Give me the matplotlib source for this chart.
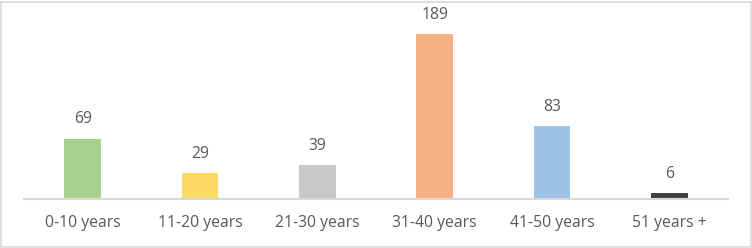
import matplotlib
matplotlib.use('Agg')
from matplotlib import pyplot as plt
from matplotlib.patches import Rectangle

categories = ['0-10 years', '11-20 years', '21-30 years', '31-40 years', '41-50 years', '51 years +']
counts = [69, 29, 39, 189, 83, 6]
colors = ['#A9D18E', '#FFD966', '#C9C9C9', '#F4B183', '#9DC3E6', '#404040']

plt.rcParams['font.family'] = ['Open Sans', 'DejaVu Sans']

fig = plt.figure(figsize=(7.52, 2.48), dpi=100)
ax = fig.add_axes([24 / 752, (248 - 198.7) / 248, 704 / 752, 174.2 / 248])

x = range(len(categories))
ax.bar(x, counts, width=0.315, color=colors, zorder=2)
for i, v in enumerate(counts):
    ax.annotate(str(v), (i, v), xytext=(0, 8), textcoords='offset points',
                ha='center', va='bottom', fontsize=11.3, color='#595959')

ax.set_xlim(-0.5, len(categories) - 0.5)
ax.set_ylim(0, 200)
ax.set_xticks(list(x))
ax.set_xticklabels(categories, fontsize=11.3, color='#595959')
ax.tick_params(axis='x', length=0, pad=12)
ax.set_yticks([])
for side in ['top', 'right', 'left']:
    ax.spines[side].set_visible(False)
ax.spines['bottom'].set_color('#D9D9D9')
ax.spines['bottom'].set_linewidth(1.5)

# outer chart border
fig.patches.append(Rectangle((1.5 / 752, 1.5 / 248), 749 / 752, 245 / 248,
                             transform=fig.transFigure, fill=False,
                             edgecolor='#D9D9D9', linewidth=1.2))

fig.savefig('out.png', dpi=100)
